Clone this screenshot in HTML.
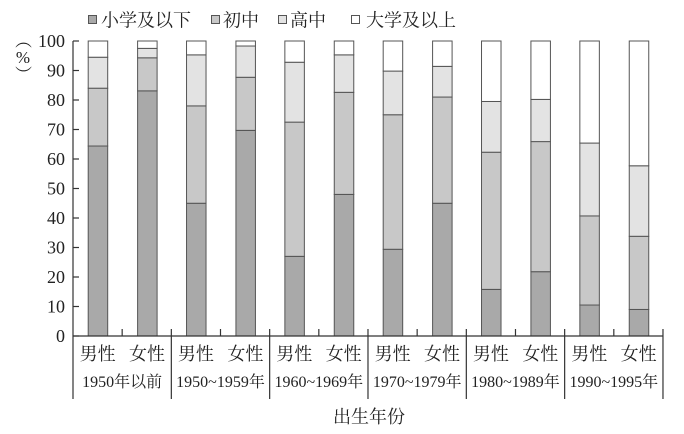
<!DOCTYPE html>
<html><head><meta charset="utf-8"><style>
html,body{margin:0;padding:0;background:#fff;}
svg{display:block;}
.cj{font-family:"Liberation Serif","Noto Serif CJK SC",serif;fill:#222;}
.num{font-family:"Liberation Serif",serif;fill:#222;}
</style></head><body>
<svg width="684" height="434" viewBox="0 0 684 434" xmlns="http://www.w3.org/2000/svg">
<rect width="684" height="434" fill="#fff"/>
<!-- legend -->
<g stroke="#555" stroke-width="1">
<rect x="88.5" y="15.5" width="8" height="8" fill="#a9a9a9"/>
<rect x="211.5" y="15.5" width="8" height="8" fill="#c8c8c8"/>
<rect x="278.5" y="15.5" width="8" height="8" fill="#e3e3e3"/>
<rect x="351.5" y="15.5" width="8" height="8" fill="#fff"/>
</g>
<g class="cj" font-size="18">
<text x="101" y="26.5">小学及以下</text>
<text x="223" y="26.5">初中</text>
<text x="290" y="26.5">高中</text>
<text x="366" y="26.5">大学及以上</text>
</g>
<!-- y label -->
<g class="cj" font-size="17" text-anchor="middle">
<text x="23" y="46" transform="rotate(90 23 40)">（</text>
<text x="23" y="63" class="num" font-size="17">%</text>
<text x="23" y="80" transform="rotate(90 23 74)">）</text>
</g>
<!-- bars -->
<g id="bars" stroke="#555" stroke-width="1"></g>
<!-- axes -->
<g stroke="#333" stroke-width="1.2" fill="none">
<line x1="73" y1="41" x2="73" y2="399"/>
<line x1="73" y1="336" x2="663" y2="336"/>
</g>
<g id="ticks" stroke="#333" stroke-width="1.2"></g>
<g id="ylab" class="num" font-size="18" text-anchor="end"></g>
<g id="xlab" class="cj" font-size="18" text-anchor="middle"></g>
<g id="glab" class="cj" font-size="16" text-anchor="middle"></g>
<text class="cj" x="369" y="423" font-size="18" text-anchor="middle">出生年份</text>
</svg>
<script>
var NS="http://www.w3.org/2000/svg";
function el(t,a,p,txt){var e=document.createElementNS(NS,t);for(var k in a)e.setAttribute(k,a[k]);if(txt!=null)e.textContent=txt;p.appendChild(e);return e;}
var Y=function(v){return 336-2.95*v;};
var data=[[64.4,84.0,94.5],[83.1,94.3,97.5],[45.0,78.0,95.3],[69.7,87.7,98.3],[27.0,72.5,92.8],[48.0,82.6,95.3],[29.4,75.0,89.8],[45.0,81.0,91.4],[15.8,62.3,79.5],[21.8,65.9,80.2],[10.5,40.7,65.4],[9.0,33.8,57.7]];
var cols=["#a9a9a9","#c8c8c8","#e3e3e3","#ffffff"];
var bars=document.getElementById("bars");
var gw=98.33, bw=19.5;
for(var i=0;i<12;i++){
  var g=Math.floor(i/2);
  var x=73+gw*g+(i%2==0?15.2:64.6);
  var vals=[0].concat(data[i]).concat([100]);
  for(var s=0;s<4;s++){
    var y1=Y(vals[s+1]),y0=Y(vals[s]);
    el("rect",{x:x,y:y1,width:bw,height:y0-y1,fill:cols[s]},bars);
  }
}
var ticks=document.getElementById("ticks");
var ylab=document.getElementById("ylab");
for(var v=0;v<=100;v+=10){
  el("line",{x1:73,y1:Y(v),x2:79,y2:Y(v)},ticks);
  el("text",{x:65,y:Y(v)+6},ylab,String(v));
}
for(var g=0;g<=6;g++){
  var gx=73+gw*g;
  if(g>0) el("line",{x1:gx,y1:329,x2:gx,y2:399},ticks);
  if(g<6) el("line",{x1:gx+gw/2,y1:329,x2:gx+gw/2,y2:336},ticks);
}
var xlab=document.getElementById("xlab"), glab=document.getElementById("glab");
var groups=["1950年以前","1950~1959年","1960~1969年","1970~1979年","1980~1989年","1990~1995年"];
for(var g=0;g<6;g++){
  var gx=73+gw*g;
  el("text",{x:gx+24.6,y:360},xlab,"男性");
  el("text",{x:gx+74,y:360},xlab,"女性");
  el("text",{x:gx+gw/2,y:387},glab,groups[g]);
}
</script>
</body></html>
